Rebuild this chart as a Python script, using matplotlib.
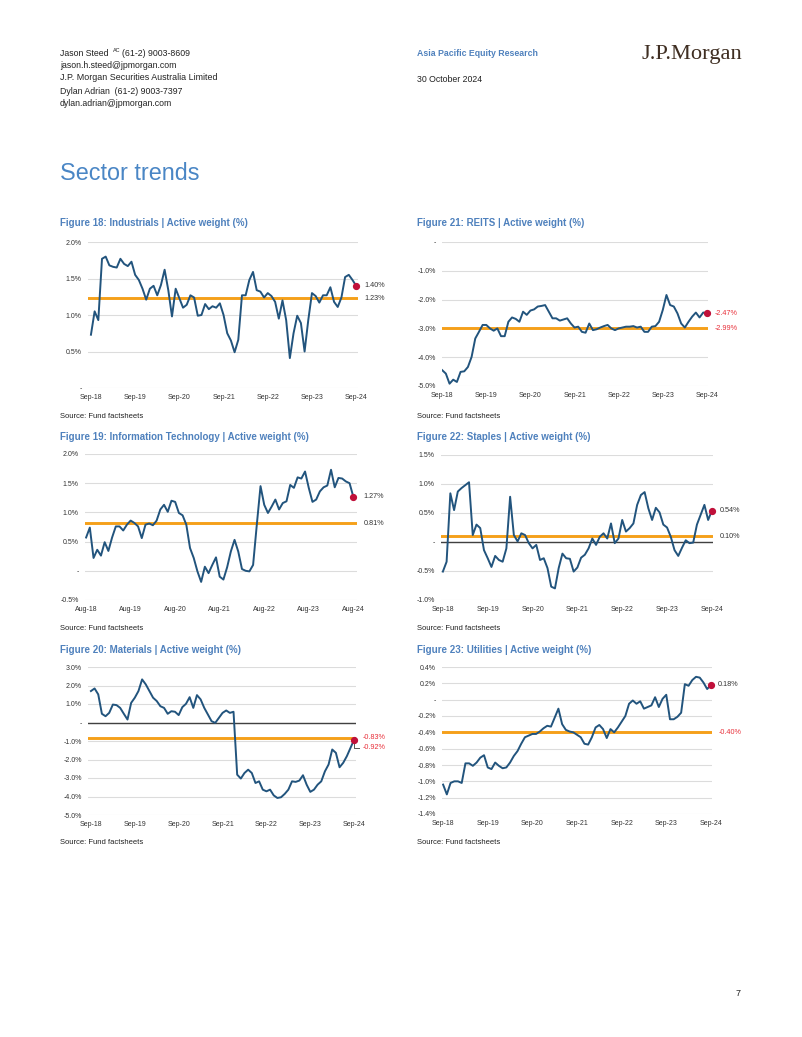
import matplotlib
matplotlib.use("Agg")
import matplotlib.pyplot as plt
from matplotlib.transforms import blended_transform_factory

plt.rcParams['font.family'] = ['Liberation Sans', 'DejaVu Sans']

W, H = 802, 1037

# ---------------- data ----------------
sep_labels = ["Sep-18", "Sep-19", "Sep-20", "Sep-21", "Sep-22", "Sep-23", "Sep-24"]
aug_labels = ["Aug-18", "Aug-19", "Aug-20", "Aug-21", "Aug-22", "Aug-23", "Aug-24"]

industrials = [0.73, 1.05, 0.93, 1.77, 1.80, 1.68, 1.66, 1.65, 1.77, 1.70, 1.67, 1.73,
               1.55, 1.48, 1.36, 1.21, 1.36, 1.40, 1.27, 1.41, 1.62, 1.34, 0.98, 1.36,
               1.23, 1.10, 1.14, 1.27, 1.24, 0.99, 1.00, 1.15, 1.08, 1.12, 1.10, 1.16,
               1.00, 0.75, 0.65, 0.49, 0.66, 1.27, 1.27, 1.48, 1.59, 1.34, 1.32, 1.24,
               1.30, 1.26, 1.18, 0.95, 1.20, 0.93, 0.41, 0.75, 0.99, 0.89, 0.50, 0.93,
               1.30, 1.26, 1.17, 1.27, 1.27, 1.38, 1.18, 1.11, 1.24, 1.52, 1.55, 1.48,
               1.40]
industrials_avg = 1.23

reits = [-4.45, -4.57, -4.92, -4.78, -4.86, -4.51, -4.49, -4.34, -3.99, -3.35, -3.12, -2.88,
         -2.88, -3.00, -3.08, -3.00, -3.27, -3.27, -2.77, -2.62, -2.67, -2.77, -2.42, -2.53,
         -2.38, -2.34, -2.24, -2.22, -2.19, -2.42, -2.65, -2.65, -2.73, -2.69, -2.65, -2.83,
         -2.97, -2.94, -3.12, -3.15, -2.83, -3.06, -3.03, -2.97, -2.92, -2.88, -3.00, -3.06,
         -3.00, -2.97, -2.94, -2.94, -2.92, -2.97, -2.94, -3.12, -3.12, -2.94, -2.92, -2.77,
         -2.36, -1.84, -2.19, -2.24, -2.48, -2.83, -2.97, -2.77, -2.59, -2.45, -2.62, -2.45,
         -2.47]
reits_avg = -2.99

info_tech = [0.57, 0.74, 0.22, 0.36, 0.26, 0.49, 0.34, 0.57, 0.76, 0.76, 0.69, 0.79,
             0.86, 0.82, 0.76, 0.56, 0.79, 0.81, 0.78, 0.86, 1.05, 1.13, 1.01, 1.20,
             1.18, 0.99, 0.95, 0.79, 0.39, 0.22, -0.01, -0.19, 0.07, -0.04, 0.10, 0.23,
             -0.10, -0.15, 0.06, 0.33, 0.53, 0.33, 0.03, 0.00, -0.01, 0.10, 0.79, 1.45,
             1.13, 0.99, 1.10, 1.22, 1.05, 1.16, 1.19, 1.47, 1.42, 1.60, 1.58, 1.70,
             1.42, 1.18, 1.22, 1.36, 1.43, 1.46, 1.73, 1.43, 1.59, 1.58, 1.53, 1.50,
             1.27]
info_tech_avg = 0.81

staples = [-0.51, -0.34, 0.84, 0.55, 0.87, 0.93, 0.98, 1.03, 0.12, 0.30, 0.24, -0.14,
           -0.28, -0.43, -0.24, -0.31, -0.34, -0.11, 0.78, 0.12, 0.01, 0.15, 0.12, -0.02,
           -0.11, -0.05, -0.31, -0.28, -0.45, -0.77, -0.80, -0.45, -0.20, -0.28, -0.29, -0.51,
           -0.44, -0.27, -0.22, -0.11, 0.06, -0.05, 0.09, 0.15, 0.06, 0.32, -0.02, 0.06,
           0.38, 0.18, 0.24, 0.32, 0.64, 0.81, 0.86, 0.58, 0.38, 0.59, 0.51, 0.30,
           0.25, 0.09, -0.14, -0.24, -0.10, 0.03, -0.02, -0.01, 0.30, 0.47, 0.64, 0.38,
           0.54]
staples_avg = 0.10

materials = [1.70, 1.84, 1.52, 0.47, 0.34, 0.52, 0.97, 0.94, 0.79, 0.47, 0.16, 1.06,
             1.34, 1.70, 2.33, 2.06, 1.70, 1.34, 1.16, 0.88, 0.79, 0.47, 0.61, 0.58,
             0.40, 0.83, 1.01, 1.37, 0.79, 1.48, 1.25, 0.79, 0.43, 0.07, -0.02, 0.25,
             0.52, 0.65, 0.52, 0.58, -2.82, -3.03, -2.73, -2.55, -2.73, -3.27, -3.18, -3.63,
             -3.72, -3.63, -3.94, -4.08, -4.04, -3.86, -3.63, -3.18, -3.21, -3.14, -2.85, -3.36,
             -3.75, -3.63, -3.36, -3.18, -2.64, -2.27, -1.46, -1.64, -2.42, -2.18, -1.82, -1.37,
             -0.92]
materials_avg = -0.83

utilities = [-1.04, -1.16, -1.02, -1.00, -1.00, -1.02, -0.78, -0.78, -0.81, -0.77, -0.71, -0.68,
             -0.83, -0.85, -0.77, -0.81, -0.84, -0.83, -0.77, -0.69, -0.63, -0.54, -0.46, -0.44,
             -0.42, -0.42, -0.39, -0.35, -0.32, -0.33, -0.22, -0.11, -0.30, -0.37, -0.39, -0.40,
             -0.43, -0.46, -0.54, -0.55, -0.46, -0.34, -0.31, -0.36, -0.47, -0.36, -0.40, -0.34,
             -0.27, -0.20, -0.05, -0.01, -0.05, -0.02, -0.11, -0.09, -0.07, 0.03, -0.09, 0.01,
             0.06, -0.24, -0.24, -0.21, -0.16, 0.19, 0.17, 0.24, 0.28, 0.27, 0.21, 0.13,
             0.18]
utilities_avg = -0.40

ind_ticks = [0.0, 0.5, 1.0, 1.5, 2.0]
reits_ticks = [-5.0, -4.0, -3.0, -2.0, -1.0, 0.0]
it_ticks = [-0.5, 0.0, 0.5, 1.0, 1.5, 2.0]
staples_ticks = [-1.0, -0.5, 0.0, 0.5, 1.0, 1.5]
mat_ticks = [-5.0, -4.0, -3.0, -2.0, -1.0, 0.0, 1.0, 2.0, 3.0]
util_ticks = [-1.4, -1.2, -1.0, -0.8, -0.6, -0.4, -0.2, 0.0, 0.2, 0.4]

# ---------------- style ----------------
LINE = "#22547D"
ORANGE = "#F5A01A"
DOT = "#C0103A"
RED = "#E8303A"
DARK = "#333333"
GRID = "#DCDCDC"
BLUE_T = "#4F81BD"

fig = plt.figure(figsize=(W / 100, H / 100), dpi=100)


def T(x, y, s, **kw):
    kw.setdefault('va', 'center')
    kw.setdefault('ha', 'left')
    kw.setdefault('fontsize', 6.3)
    kw.setdefault('color', '#222222')
    return fig.text(x / W, 1 - y / H, s, **kw)


def fmt(v):
    if abs(v) < 1e-9:
        return "-"
    return f"{v:.1f}%"


def chart(box, values, avg, ticks, xlabels, xlim, zero_line=False, last_dy=0.0):
    x0, y0, x1, y1 = box
    ax = fig.add_axes([x0 / W, 1 - y1 / H, (x1 - x0) / W, (y1 - y0) / H])
    n = len(values)
    xs = list(range(n))
    ax.set_xlim(*xlim)
    ax.set_ylim(ticks[0], ticks[-1])
    for s in ax.spines.values():
        s.set_visible(False)
    for t in ticks:
        ax.axhline(t, color=GRID, lw=0.8, zorder=1)
    if zero_line:
        ax.axhline(0, color="#404040", lw=1.0, zorder=1.5)
    ax.axhline(avg, color=ORANGE, lw=2.1, zorder=2)
    ax.plot(xs, values, color=LINE, lw=1.4, zorder=3, solid_joinstyle='round')
    ax.plot([xs[-1]], [values[-1]], 'o', color=DOT, ms=4.2, zorder=4, clip_on=False)
    ax.set_yticks(ticks)
    ax.set_yticklabels([fmt(t) for t in ticks])
    for lab, t in zip(ax.get_yticklabels(), ticks):
        lab.set_color(RED if t < -1e-9 else DARK)
    ax.set_xticks(list(range(0, n, 12)))
    ax.set_xticklabels(xlabels)
    ax.tick_params(axis='both', length=0, labelsize=5.0, colors=DARK)
    ax.tick_params(axis='y', pad=4.5)
    ax.tick_params(axis='x', pad=4.0)
    trans = blended_transform_factory(ax.transAxes, ax.transData)
    last = values[-1]
    ax.annotate(f"{avg:.2f}%", xy=(1.0, avg), xycoords=trans,
                xytext=(4.5, 0), textcoords='offset points', fontsize=5.2,
                color=RED if avg < 0 else DARK, va='center', ha='left')
    ax.annotate(f"{last:.2f}%", xy=(1.0, last + last_dy), xycoords=trans,
                xytext=(4.5, 0), textcoords='offset points', fontsize=5.2,
                color=RED if last < 0 else DARK, va='center', ha='left')
    if last_dy:
        ax.plot([xs[-1], xs[-1], xs[-1] + 1.2], [last, last + last_dy, last + last_dy],
                color="#555555", lw=0.7, clip_on=False, zorder=3)
    return ax


chart((88, 242, 358, 388), industrials, industrials_avg, ind_ticks, sep_labels, (-0.8, 72.5))
chart((442, 242, 708, 386), reits, reits_avg, reits_ticks, sep_labels, (-0.05, 72.3))
chart((85, 454, 357, 600), info_tech, info_tech_avg, it_ticks, aug_labels, (-0.3, 73.0))
chart((441, 455, 713, 600), staples, staples_avg, staples_ticks, sep_labels, (-0.5, 72.3),
      zero_line=True)
chart((88, 667, 356, 815), materials, materials_avg, mat_ticks, sep_labels, (-0.8, 72.5),
      zero_line=True, last_dy=-0.45)
chart((442, 667, 712, 814), utilities, utilities_avg, util_ticks, sep_labels, (-0.3, 72.3))

# ---------------- page text ----------------
T(60, 53, "Jason Steed")
T(112.5, 50, "AC", fontsize=4.0)
T(122, 53, "(61-2) 9003-8609")
T(60, 65, "jason.h.steed@jpmorgan.com")
T(60, 77, "J.P. Morgan Securities Australia Limited", fontsize=6.4)
T(60, 91, "Dylan Adrian  (61-2) 9003-7397")
T(60, 103, "dylan.adrian@jpmorgan.com")

T(417, 53, "Asia Pacific Equity Research", fontweight='bold', color=BLUE_T)
T(417, 79, "30 October 2024")
T(641, 55, "J.P.Morgan", family=['Liberation Serif', 'DejaVu Serif'], fontsize=16.2,
  color="#3F2E22")

T(60, 173, "Sector trends", fontsize=16.8, color="#4A86C5")

titles = [
    (60, 223, "Figure 18: Industrials | Active weight (%)"),
    (417, 223, "Figure 21: REITS | Active weight (%)"),
    (60, 437, "Figure 19: Information Technology | Active weight (%)"),
    (417, 437, "Figure 22: Staples | Active weight (%)"),
    (60, 650, "Figure 20: Materials | Active weight (%)"),
    (417, 650, "Figure 23: Utilities | Active weight (%)"),
]
for x, y, s in titles:
    T(x, y, s, fontsize=7.0, fontweight='bold', color=BLUE_T)

for x, y in [(60, 416), (417, 416), (60, 629), (417, 629), (60, 842), (417, 842)]:
    T(x, y, "Source: Fund factsheets", fontsize=5.5)

T(736, 994, "7", fontsize=6.5)

fig.savefig("out.png", dpi=100)
